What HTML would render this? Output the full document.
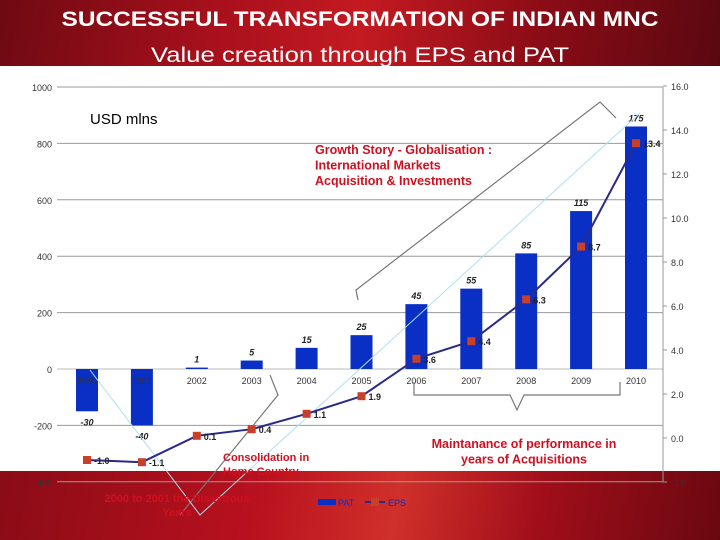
<!DOCTYPE html>
<html><head><meta charset="utf-8"><style>
body{margin:0;width:720px;height:540px;overflow:hidden;background:#fff;font-family:"Liberation Sans",sans-serif}
#hdr{position:absolute;left:0;top:0;width:720px;height:66px;background:linear-gradient(100deg,#6e0a12 0%,#a8101c 30%,#c41a22 50%,#8a0c16 75%,#5a0810 100%)}
#ftr{position:absolute;left:0;top:471px;width:720px;height:69px;background:linear-gradient(100deg,#8a0c16 0%,#b8101e 35%,#d0302a 55%,#a00e1a 75%,#6a0810 100%)}
svg{position:absolute;left:0;top:0}
</style></head><body>
<div id="hdr"></div>
<div id="ftr"></div>
<svg id="chart" width="720" height="540"></svg>
<script>
const years=["2000","2001","2002","2003","2004","2005","2006","2007","2008","2009","2010"];
const patHeights=[-150,-200,5,30,75,120,230,285,410,560,860];
const patLabels=["-30","-40","1","5","15","25","45","55","85","115","175"];
const epsValues=[-1.0,-1.1,0.1,0.4,1.1,1.9,3.6,4.4,6.3,8.7,13.4];
const leftTicks=[1000,800,600,400,200,0,-200,-400];
const rightTicks=["16.0","14.0","12.0","10.0","8.0","6.0","4.0","2.0","0.0","-2.0"];
const rightTickVals=[16,14,12,10,8,6,4,2,0,-2];

const svg=document.getElementById('chart');
const NS='http://www.w3.org/2000/svg';
function mk(t,a,txt){const e=document.createElementNS(NS,t);for(const k in a)e.setAttribute(k,a[k]);if(txt!==undefined)e.textContent=txt;svg.appendChild(e);return e;}
const yL=v=>369-(v)*0.282;
const yR=v=>438-v*22;
const xC=i=>87+i*54.9;

let e;
e=mk('text',{x:360,y:26,'text-anchor':'middle','font-size':21,'font-weight':'bold',fill:'#fff',textLength:597,lengthAdjust:'spacingAndGlyphs'},'SUCCESSFUL TRANSFORMATION OF INDIAN MNC');

e=mk('text',{x:360,y:62,'text-anchor':'middle','font-size':21,fill:'#fff',textLength:418,lengthAdjust:'spacingAndGlyphs'},'Value creation through EPS and PAT');


// gridlines & left ticks
leftTicks.forEach(v=>{
  const y=yL(v);
  e=mk('line',{x1:57,x2:663,y1:y,y2:y,stroke:v===0?'#bbb':'#999','stroke-width':1});
  
  e=mk('text',{x:52,y:y+4,'text-anchor':'end','font-size':9,fill:'#333'},String(v));
  
});
e=mk('line',{x1:663,x2:663,y1:87,y2:482,stroke:'#999'});

rightTickVals.forEach((v,i)=>{
  const y=yR(v);
  e=mk('line',{x1:663,x2:667,y1:y,y2:y,stroke:'#999'});
  
  e=mk('text',{x:671,y:y+4,'font-size':9,fill:'#333'},rightTicks[i]);
  
});
e=mk('text',{x:90,y:124,'font-size':15,fill:'#000'},'USD mlns');


// bars
years.forEach((yr,i)=>{
  const x=xC(i),v=patHeights[i];
  const y0=yL(0),y1=yL(v);
  e=mk('rect',{x:x-11,y:Math.min(y0,y1),width:22,height:Math.abs(y1-y0),fill:'#0a2fc4'});
  
  const ly=v>=0?y1-5:y1+14;
  e=mk('text',{x:x,y:ly,'text-anchor':'middle','font-size':9,'font-style':'italic','font-weight':'bold',fill:'#222'},patLabels[i]);
  
  e=mk('text',{x:x,y:384,'text-anchor':'middle','font-size':9,fill:'#333'},yr);
  
});

// annotation braces / arrows
e=mk('polyline',{points:'358,300 356,290 600,102 616,118',fill:'none',stroke:'#777','stroke-width':1.2});

e=mk('polyline',{points:'414,382 414,395 510,395 517,410 524,395 620,395 620,382',fill:'none',stroke:'#777','stroke-width':1.2});

e=mk('polyline',{points:'270,375 278,395 180,515',fill:'none',stroke:'#777','stroke-width':1.2});

e=mk('polyline',{points:'90,370 200,515 640,113',fill:'none',stroke:'#aee0f0','stroke-width':1});


// EPS line
const pts=epsValues.map((v,i)=>xC(i)+','+yR(v)).join(' ');
e=mk('polyline',{points:pts,fill:'none',stroke:'#2a2a8a','stroke-width':2});

epsValues.forEach((v,i)=>{
  const x=xC(i),y=yR(v);
  e=mk('rect',{x:x-4,y:y-4,width:8,height:8,fill:'#c8402a'});
  
  e=mk('text',{x:x+7,y:y+4,'font-size':9,'font-weight':'bold',fill:'#222'},v.toFixed(1));
  
});

// annotations text
function red(x,y,lines,size,name,anchor){lines.forEach((l,k)=>{e=mk('text',{x:x,y:y+k*(size+3),'font-size':size,'font-weight':'bold',fill:'#d01020','text-anchor':anchor||'start'},l);});}
red(315,154,['Growth Story - Globalisation :','International Markets','Acquisition & Investments'],12.5,'growth-annotation');
red(524,448,['Maintanance of performance in','years of Acquisitions'],12.5,'maintenance-annotation','middle');
red(223,461,['Consolidation in','Home Country'],11,'consolidation-annotation');
red(177,502,['2000 to 2001 the Disastrous','Years'],11,'disastrous-annotation','middle');

// legend
e=mk('rect',{x:318,y:499,width:18,height:6,fill:'#0a2fc4'});

e=mk('text',{x:338,y:506,'font-size':9,fill:'#0a2fc4'},'PAT');

e=mk('line',{x1:365,x2:385,y1:502,y2:502,stroke:'#2a2a8a','stroke-width':2});

e=mk('rect',{x:371,y:498,width:8,height:8,fill:'#c8402a'});

e=mk('text',{x:388,y:506,'font-size':9,fill:'#0a2fc4'},'EPS');

</script>
</body></html>
